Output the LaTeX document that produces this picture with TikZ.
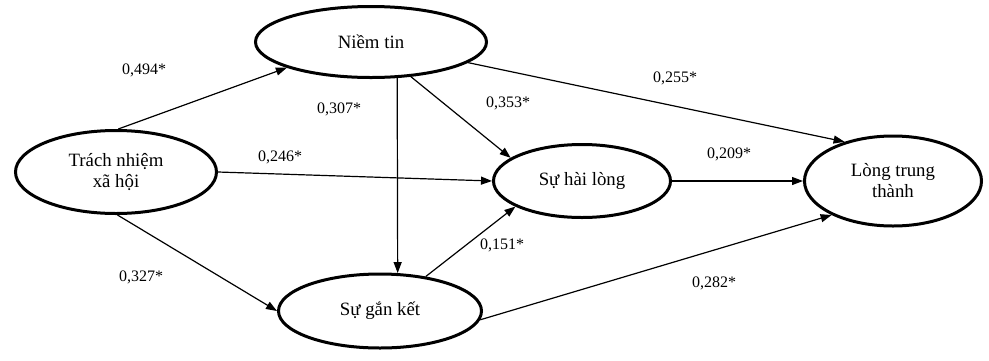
\documentclass[tikz,border=0pt]{standalone}
\usepackage{fontspec}
\setmainfont{Liberation Serif}
\usetikzlibrary{arrows.meta,shapes.geometric}

\begin{document}
\begin{tikzpicture}[-{Triangle[length=11pt,width=8pt]},x=1pt,y=-1pt,line width=1.2pt]
    \tikzstyle{factor}=[draw=black, ellipse, line width=3pt, inner sep=0pt, align=center, font=\fontsize{18.8}{21}\selectfont, text=black]
    \tikzstyle{coef}=[inner sep=0pt, font=\fontsize{16}{18}\selectfont, text=black]
    \useasboundingbox (0,0) rectangle (989,360);

    \node[factor, minimum width=201pt, minimum height=83pt] (tn)  at (116,172) {Trách nhiệm\\xã hội};
    \node[factor, minimum width=231pt, minimum height=71pt] (nt)  at (371,42)  {Niềm tin};
    \node[factor, minimum width=177pt, minimum height=73pt] (hl)  at (582,181) {Sự hài lòng};
    \node[factor, minimum width=177pt, minimum height=90pt] (ltt) at (893,181) {Lòng trung\\thành};
    \node[factor, minimum width=203pt, minimum height=74pt] (gk)  at (380,311) {Sự gắn kết};

    \path
     (tn.87)  edge[] (nt.197)
     (tn.0)   edge[] (hl.180)
     (tn.-88) edge[] (gk.180)
     (nt.-54) edge[] (gk.65)
     (nt.-41) edge[] (hl.162)
     (nt.-12) edge[] (ltt.141)
     (gk.37)  edge[] (hl.-159)
     (hl.0)   edge[] (ltt.180)
     (gk.-5)  edge[] (ltt.-151)
     ;

    \node[coef] (w-tn-nt)  at (144,70)  {0,494*};
    \node[coef] (w-tn-hl)  at (280,157) {0,246*};
    \node[coef] (w-tn-gk)  at (141,277) {0,327*};
    \node[coef] (w-nt-gk)  at (339,109) {0,307*};
    \node[coef] (w-nt-hl)  at (508,103) {0,353*};
    \node[coef] (w-nt-ltt) at (675,78)  {0,255*};
    \node[coef] (w-gk-hl)  at (502,245) {0,151*};
    \node[coef] (w-hl-ltt) at (729,154) {0,209*};
    \node[coef] (w-gk-ltt) at (714,283) {0,282*};
  \end{tikzpicture}
\end{document}
